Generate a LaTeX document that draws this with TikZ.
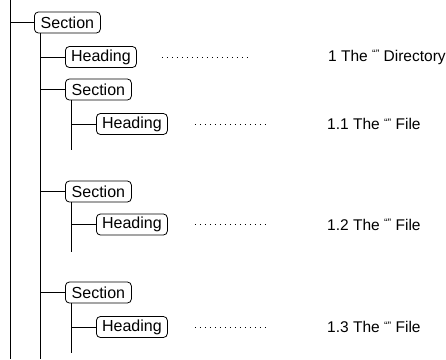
\documentclass[tikz,border=0pt]{standalone}
\usepackage{fontspec}
\setmainfont{Liberation Sans}
\newcommand{\emptyquotes}{\raisebox{0.4ex}{\scalebox{0.7}{``''}}}
\tikzset{
  tocbox/.style={draw, rounded corners=4pt, line width=0.8pt, minimum height=21pt,
    inner xsep=3pt, inner ysep=0pt, anchor=west, font=\fontsize{16}{18}\selectfont},
  secbox/.style={tocbox, minimum width=66pt},
  headbox/.style={tocbox, minimum width=71pt},
  branch/.style={line width=1pt},
  leader/.style={line width=1pt, dash pattern=on 1pt off 4pt},
  entry/.style={anchor=west, inner sep=0pt, font=\fontsize{15.5}{18}\selectfont}
}
\begin{document}
\begin{tikzpicture}[x=1pt, y=-1pt]
  \useasboundingbox (0,0) rectangle (446,359);
  \coordinate (top) at (10,0);
  \coordinate (bottom) at (10,359);
  \draw[branch] (top) -- (bottom);

  \node[secbox] (sec) at (34,22.5) {Section};
  \draw[branch] (top |- sec.west) -- (sec.west);
  \coordinate (sectrunk) at ([xshift=6pt]sec.south west);
  \draw[branch] (sectrunk) -- (sectrunk |- bottom);

  \node[headbox] (head) at (65,57) {Heading};
  \draw[branch] (sectrunk |- head.west) -- (head.west);
  \node[entry] (title) at (328,57) {1 The \emptyquotes{} Directory};
  \draw[leader] ([xshift=25pt]head.east) -- ([xshift=-80pt]title.west);

  \node[secbox] (suba) at (65,89.5) {Section};
  \draw[branch] (sectrunk |- suba.west) -- (suba.west);
  \coordinate (subatrunk) at ([xshift=6pt]suba.south west);
  \coordinate (subaend) at (71,150);
  \draw[branch] (subatrunk) -- (subaend);
  \node[headbox] (subahead) at (96,124) {Heading};
  \draw[branch] (subatrunk |- subahead.west) -- (subahead.west);
  \node[entry] (subatitle) at (327,124) {1.1 The \emptyquotes{} File};
  \draw[leader] ([xshift=27pt]subahead.east) -- ([xshift=-59pt]subatitle.west);

  \node[secbox] (subb) at (65,191.5) {Section};
  \draw[branch] (sectrunk |- subb.west) -- (subb.west);
  \coordinate (subbtrunk) at ([xshift=6pt]subb.south west);
  \coordinate (subbend) at (71,252);
  \draw[branch] (subbtrunk) -- (subbend);
  \node[headbox] (subbhead) at (96,224.5) {Heading};
  \draw[branch] (subbtrunk |- subbhead.west) -- (subbhead.west);
  \node[entry] (subbtitle) at (327,224.5) {1.2 The \emptyquotes{} File};
  \draw[leader] ([xshift=27pt]subbhead.east) -- ([xshift=-59pt]subbtitle.west);

  \node[secbox] (subc) at (65,292.5) {Section};
  \draw[branch] (sectrunk |- subc.west) -- (subc.west);
  \coordinate (subctrunk) at ([xshift=6pt]subc.south west);
  \coordinate (subcend) at (71,353);
  \draw[branch] (subctrunk) -- (subcend);
  \node[headbox] (subchead) at (96,327) {Heading};
  \draw[branch] (subctrunk |- subchead.west) -- (subchead.west);
  \node[entry] (subctitle) at (327,327) {1.3 The \emptyquotes{} File};
  \draw[leader] ([xshift=27pt]subchead.east) -- ([xshift=-59pt]subctitle.west);
\end{tikzpicture}
\end{document}
